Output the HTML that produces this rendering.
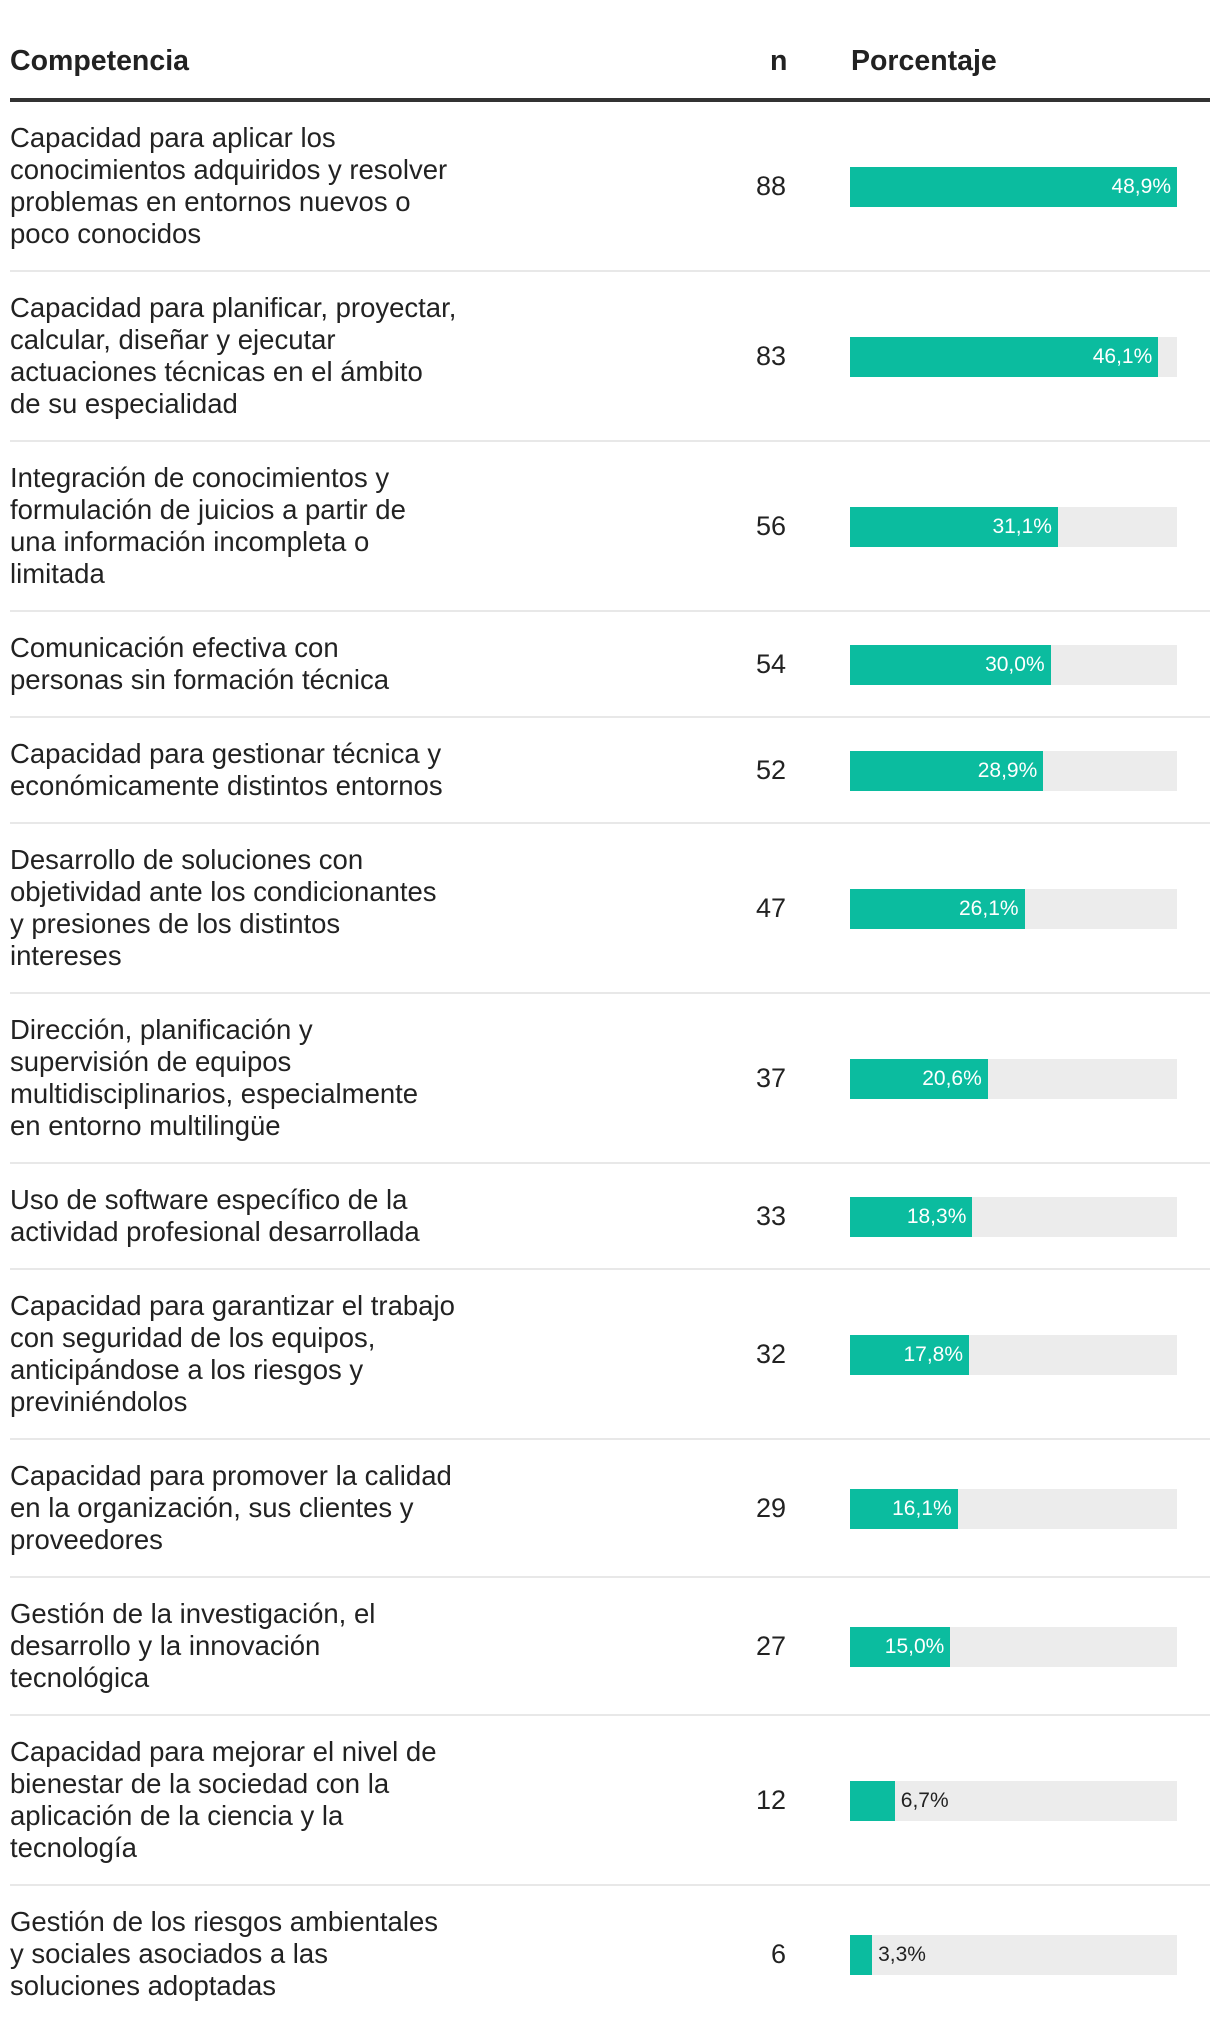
<!DOCTYPE html>
<html><head><meta charset="utf-8">
<style>
body{margin:0;background:#fff;font-family:"Liberation Sans",sans-serif;color:#222;}
#wrap{position:relative;width:1220px;height:2032px;}
.h{position:absolute;top:45px;font-weight:bold;font-size:28.5px;color:#222;}
#thick{position:absolute;left:10px;top:98px;width:1200px;height:4px;background:#333;}
.row{position:absolute;left:10px;width:1200px;border-bottom:2px solid #e8e8e8;box-sizing:border-box;}
.lab{position:absolute;left:0;font-size:27.5px;line-height:32px;color:#222;white-space:nowrap;}
.n{position:absolute;right:424px;font-size:27px;width:100px;text-align:right;}
.track{position:absolute;left:840px;width:327px;height:40px;background:#ececec;}
.bar{position:absolute;left:0;top:0;height:40px;background:#0bbc9f;}
.val{position:absolute;top:0;line-height:40px;font-size:21px;}
</style></head><body>
<div id="wrap">
<div class="h" style="left:10px">Competencia</div>
<div class="h" style="left:770px">n</div>
<div class="h" style="left:851px">Porcentaje</div>
<div id="thick"></div>
</div>
<script>
const labels=[
"Capacidad para aplicar los|conocimientos adquiridos y resolver|problemas en entornos nuevos o|poco conocidos",
"Capacidad para planificar, proyectar,|calcular, diseñar y ejecutar|actuaciones técnicas en el ámbito|de su especialidad",
"Integración de conocimientos y|formulación de juicios a partir de|una información incompleta o|limitada",
"Comunicación efectiva con|personas sin formación técnica",
"Capacidad para gestionar técnica y|económicamente distintos entornos",
"Desarrollo de soluciones con|objetividad ante los condicionantes|y presiones de los distintos|intereses",
"Dirección, planificación y|supervisión de equipos|multidisciplinarios, especialmente|en entorno multilingüe",
"Uso de software específico de la|actividad profesional desarrollada",
"Capacidad para garantizar el trabajo|con seguridad de los equipos,|anticipándose a los riesgos y|previniéndolos",
"Capacidad para promover la calidad|en la organización, sus clientes y|proveedores",
"Gestión de la investigación, el|desarrollo y la innovación|tecnológica",
"Capacidad para mejorar el nivel de|bienestar de la sociedad con la|aplicación de la ciencia y la|tecnología",
"Gestión de los riesgos ambientales|y sociales asociados a las|soluciones adoptadas"];
const counts=[88,83,56,54,52,47,37,33,32,29,27,12,6];
const pcts=[48.9,46.1,31.1,30.0,28.9,26.1,20.6,18.3,17.8,16.1,15.0,6.7,3.3];
const maxPct=48.9, trackW=327;
const x=v=>v/maxPct*trackW;
const wrap=document.getElementById('wrap');
let y=102;
labels.forEach((l,i)=>{
  const lines=l.split('|');
  const h=lines.length*32+41;
  const r=document.createElement('div');
  r.className='row';
  
  
  r.style.top=y+'px';r.style.height=(h+1)+'px';
  if(i==labels.length-1)r.style.borderBottom='none';
  const mid=h/2;
  const lab=document.createElement('div');
  lab.className='lab';lab.style.top='20px';
  lab.innerHTML=lines.join('<br>');
  
  
  r.appendChild(lab);
  const n=document.createElement('div');
  n.className='n';n.style.top=(mid-16)+'px';n.textContent=counts[i];
  
  
  r.appendChild(n);
  const t=document.createElement('div');
  t.className='track';t.style.top=(mid-20)+'px';
  
  
  const b=document.createElement('div');
  b.className='bar';const w=x(pcts[i]);b.style.width=w+'px';
  
  
  t.appendChild(b);
  const v=document.createElement('div');
  v.className='val';
  v.textContent=pcts[i].toFixed(1).replace('.',',')+'%';
  
  
  if(w>70){v.style.color='#fff';v.style.right=(trackW-w+6)+'px';}
  else{v.style.color='#222';v.style.left=(w+6)+'px';}
  t.appendChild(v);
  r.appendChild(t);
  wrap.appendChild(r);
  y+=h+1;
});
</script>
</body></html>
